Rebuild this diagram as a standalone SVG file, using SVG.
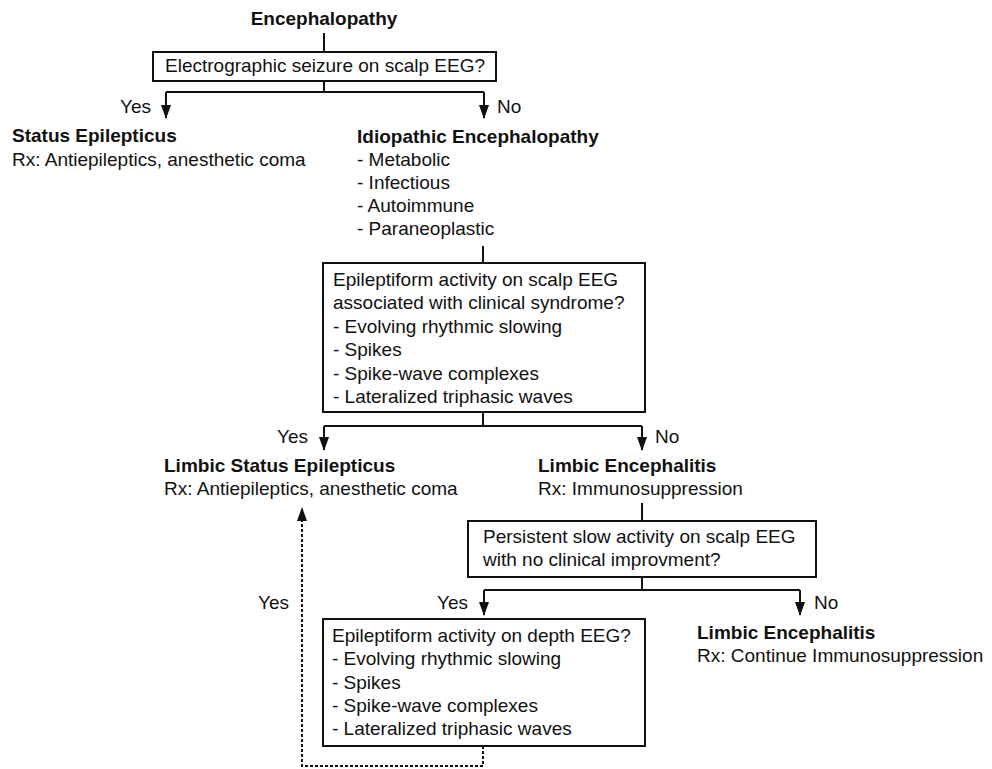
<svg xmlns="http://www.w3.org/2000/svg" width="992" height="769" viewBox="0 0 992 769">
<defs>
<style>
text{font-family:"Liberation Sans",Arial,sans-serif;font-size:19px;fill:#111;}
.b{font-weight:bold;}
.m{text-anchor:middle;}
.e{text-anchor:end;}
.box{fill:#fff;stroke:#111;stroke-width:2;}
.ln{fill:none;stroke:#111;stroke-width:2;}
.dash{fill:none;stroke:#111;stroke-width:2;stroke-dasharray:3 2;}
</style>
<marker id="ah" viewBox="0 0 14 10" refX="13" refY="5" markerWidth="14" markerHeight="10" markerUnits="userSpaceOnUse" orient="auto">
<path d="M0,0 L14,5 L0,10 Z" fill="#111"/>
</marker>
</defs>
<rect width="992" height="769" fill="#fff"/>

<g id="connectors">
<line class="ln" x1="324" y1="33" x2="324" y2="52"/>
<line class="ln" x1="324" y1="81" x2="324" y2="92"/>
<polyline class="ln" points="166,92 484,92"/>
<line class="ln" x1="166" y1="92" x2="166" y2="118" marker-end="url(#ah)"/>
<line class="ln" x1="484" y1="92" x2="484" y2="118" marker-end="url(#ah)"/>
<line class="ln" x1="483" y1="246" x2="483" y2="263"/>
<line class="ln" x1="483" y1="412" x2="483" y2="426"/>
<polyline class="ln" points="324,426 642,426"/>
<line class="ln" x1="324" y1="426" x2="324" y2="450" marker-end="url(#ah)"/>
<line class="ln" x1="642" y1="426" x2="642" y2="450" marker-end="url(#ah)"/>
<line class="ln" x1="642" y1="503" x2="642" y2="521"/>
<line class="ln" x1="642" y1="577" x2="642" y2="590"/>
<polyline class="ln" points="484,590 800,590"/>
<line class="ln" x1="484" y1="590" x2="484" y2="615" marker-end="url(#ah)"/>
<line class="ln" x1="800" y1="590" x2="800" y2="615" marker-end="url(#ah)"/>
<polyline class="dash" points="483,746 483,766 302,766 302,508" marker-end="url(#ah)"/>
<text class="e" x="151" y="113">Yes</text>
<text x="497" y="113">No</text>
<text class="e" x="308" y="443">Yes</text>
<text x="655" y="443">No</text>
<text class="e" x="468" y="609">Yes</text>
<text x="814" y="609">No</text>
<text class="e" x="289" y="609">Yes</text>
</g>

<g id="encephalopathy">
<text class="b m" x="324" y="25">Encephalopathy</text>
</g>

<g id="q-seizure">
<rect class="box" x="153" y="52" width="343" height="29"/>
<text class="m" x="325" y="72">Electrographic seizure on scalp EEG?</text>
</g>

<g id="status-epilepticus">
<text class="b" x="12" y="142">Status Epilepticus</text>
<text x="12" y="166">Rx: Antiepileptics, anesthetic coma</text>
</g>

<g id="idiopathic">
<text class="b" x="357" y="143">Idiopathic Encephalopathy</text>
<text x="357" y="166">- Metabolic</text>
<text x="357" y="189">- Infectious</text>
<text x="357" y="212">- Autoimmune</text>
<text x="357" y="235">- Paraneoplastic</text>
</g>

<g id="q-scalp">
<rect class="box" x="323" y="263" width="322" height="149"/>
<text x="333" y="286">Epileptiform activity on scalp EEG</text>
<text x="333" y="309">associated with clinical syndrome?</text>
<text x="333" y="333">- Evolving rhythmic slowing</text>
<text x="333" y="356">- Spikes</text>
<text x="333" y="380">- Spike-wave complexes</text>
<text x="333" y="403">- Lateralized triphasic waves</text>
</g>

<g id="limbic-status">
<text class="b" x="164" y="472">Limbic Status Epilepticus</text>
<text x="164" y="495">Rx: Antiepileptics, anesthetic coma</text>
</g>

<g id="limbic-enc-1">
<text class="b" x="538" y="472">Limbic Encephalitis</text>
<text x="538" y="495">Rx: Immunosuppression</text>
</g>

<g id="q-persistent">
<rect class="box" x="468" y="521" width="348" height="56"/>
<text x="483" y="543">Persistent slow activity on scalp EEG</text>
<text x="483" y="566">with no clinical improvment?</text>
</g>

<g id="q-depth">
<rect class="box" x="323" y="619" width="322" height="127"/>
<text x="332" y="642">Epileptiform activity on depth EEG?</text>
<text x="332" y="665">- Evolving rhythmic slowing</text>
<text x="332" y="689">- Spikes</text>
<text x="332" y="712">- Spike-wave complexes</text>
<text x="332" y="735">- Lateralized triphasic waves</text>
</g>

<g id="limbic-enc-2">
<text class="b" x="697" y="639">Limbic Encephalitis</text>
<text x="697" y="662">Rx: Continue Immunosuppression</text>
</g>
</svg>
